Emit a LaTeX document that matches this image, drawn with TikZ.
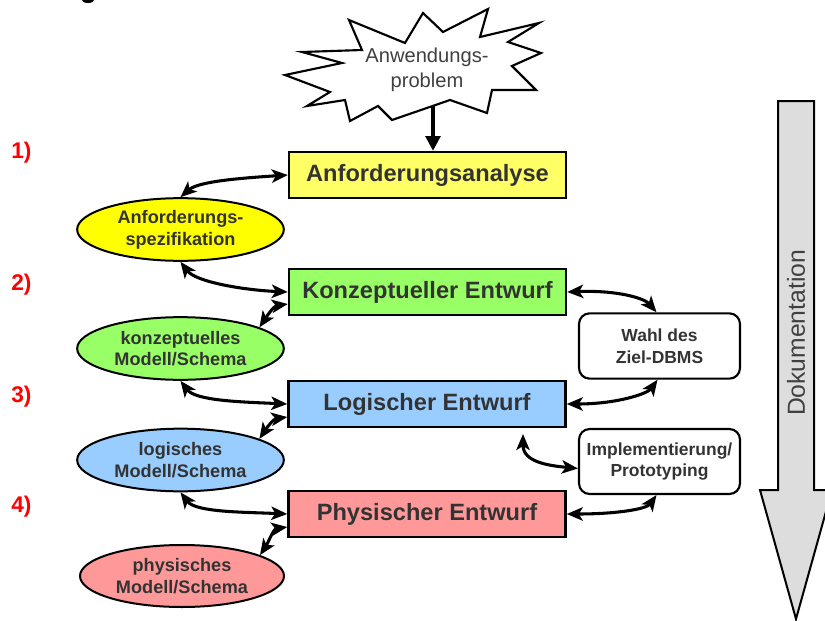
\documentclass[tikz,border=0pt]{standalone}
\usepackage{fontspec}
\setmainfont{Liberation Sans}
\usetikzlibrary{shapes.geometric,arrows.meta,calc}
\definecolor{txt}{HTML}{333333}
\definecolor{txtg}{HTML}{404040}
\definecolor{aabox}{HTML}{FFFF66}
\definecolor{aaell}{HTML}{FFFF00}
\definecolor{kz}{HTML}{99FF66}
\definecolor{lg}{HTML}{99CCFF}
\definecolor{ph}{HTML}{FF9999}
\definecolor{docg}{HTML}{DDDDDD}
\begin{document}
\begin{tikzpicture}[x=0.75pt,y=-0.75pt,
  phasebox/.style={draw, line width=1.8pt, minimum width=207.75pt, minimum height=34.5pt,
    inner sep=0pt, font=\fontsize{17.7}{20}\selectfont\bfseries, text=txt},
  modell/.style={ellipse, draw, line width=1.5pt, minimum width=155pt, minimum height=47pt,
    inner sep=0pt, align=center, font=\fontsize{13.6}{16.3}\selectfont\bfseries, text=txt},
  sidebox/.style={draw, rounded corners=8pt, line width=1.6pt, minimum width=120.75pt,
    minimum height=49pt, inner sep=0pt, align=center, fill=white,
    font=\fontsize{13.1}{16.3}\selectfont\bfseries, text=txt},
  stepnum/.style={anchor=west, text=red, font=\fontsize{17}{19}\selectfont\bfseries, inner sep=0pt},
  link/.style={line width=2.3pt, {Stealth[length=12pt,width=10pt,inset=3pt]}-{Stealth[length=12pt,width=10pt,inset=3pt]}}
]
\useasboundingbox (0,0) rectangle (825,621);

% fragment at top edge
\fill (88,0) ellipse (6 and 3);

% starburst
\draw[line width=1.6pt, fill=white, line join=miter]
  (285,75) -- (342,63) -- (302,52) -- (362,50) -- (349,20) -- (405,43) -- (423,13)
  -- (443,32) -- (488,9) -- (480,37) -- (539,23) -- (508,42) -- (541,53) -- (512,66)
  -- (536,90) -- (492,90) -- (487,113) -- (450,100) -- (392,120) -- (378,106)
  -- (350,121) -- (345,100) -- (307,106) -- (330,92) -- cycle;
\node[align=center, text=txtg, font=\fontsize{15.1}{18.75}\selectfont, inner sep=0pt]
  (prob) at (427,70) {Anwendungs-\\problem};
\coordinate (sb) at (433,106);

% phase boxes
\node[phasebox, fill=aabox] (AA) at (427.5,175) {Anforderungsanalyse};
\node[phasebox, fill=kz] (K) at (427.5,292) {Konzeptueller Entwurf};
\node[phasebox, fill=lg] (L) at (427,404) {Logischer Entwurf};
\node[phasebox, fill=ph] (P) at (427,514) {Physischer Entwurf};

% model ellipses
\node[modell, fill=aaell] (spec) at (180.5,229.5) {Anforderungs-\\spezifikation};
\node[modell, fill=kz] (kon) at (180.5,348.5) {konzeptuelles\\Modell/Schema};
\node[modell, fill=lg] (log) at (180.5,460) {logisches\\Modell/Schema};
\node[modell, fill=ph, minimum width=153pt, minimum height=46.5pt] (phy) at (182,576) {physisches\\Modell/Schema};

% side boxes
\node[sidebox] (W) at (659.5,346) {Wahl des\\Ziel-DBMS};
\node[sidebox, minimum height=48.75pt] (I) at (659.5,461.5) {Implementierung/\\Prototyping};

% step numbers
\node[stepnum] (n1) at (11,153) {1)};
\node[stepnum] (n2) at (11,285) {2)};
\node[stepnum] (n3) at (11,397) {3)};
\node[stepnum] (n4) at (11,507) {4)};

% documentation arrow
\draw[line width=1.5pt, fill=docg, line join=miter]
  (778,101) -- (814,101) -- (814,490) -- (832,490) -- (796,619) -- (760,490) -- (778,490) -- cycle;
\node[rotate=90, text=txtg, font=\fontsize{18.5}{20}\selectfont, inner sep=0pt] (doc) at (796,333) {Dokumentation};

% arrow from problem
\draw[line width=2.5pt, -{Triangle[length=11pt,width=11pt]}] (sb) -- ($(AA.north)+(5.5,0)$);

% left connectors
\draw[link] (spec.north) .. controls +(18,-16) and +(-45,3) .. (AA.west);
\draw[link] (spec.south) .. controls +(15,20) and +(-45,-2) .. (K.west);
\draw[link] (kon.15) .. controls +(8,-12) and +(-14,2) .. ($(K.west)+(0,12)$);
\draw[link] (kon.south) .. controls +(15,20) and +(-45,-2) .. (L.west);
\draw[link] (log.15) .. controls +(8,-12) and +(-14,2) .. ($(L.west)+(0,13)$);
\draw[link] (log.south) .. controls +(15,20) and +(-45,-2) .. (P.west);
\draw[link] (phy.15) .. controls +(8,-12) and +(-14,2) .. ($(P.west)+(0,13)$);

% right connectors
\draw[link] (K.east) .. controls +(50,-2) and +(-12,-14) .. ($(W.north)+(-3,0)$);
\draw[link] (L.east) .. controls +(50,0) and +(-10,14) .. ($(W.south)+(-2,0)$);
\coordinate (lp) at (523,434);
\draw[link] (lp) .. controls +(0,28) and +(-30,-3) .. ($(I.west)+(0,7)$);
\draw[link] (P.east) .. controls +(50,0) and +(-10,14) .. ($(I.south)+(-3,0)$);
\end{tikzpicture}
\end{document}
